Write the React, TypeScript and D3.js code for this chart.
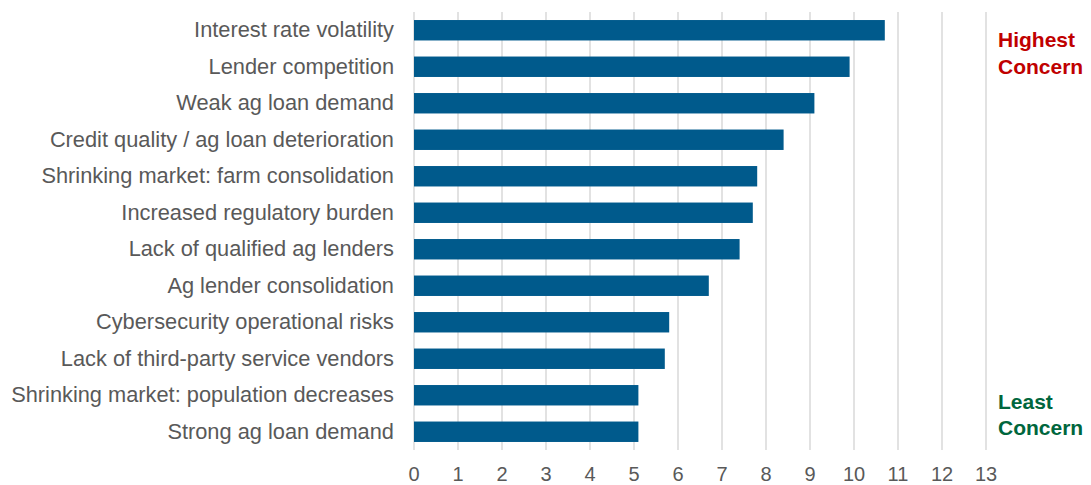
import React from "react";
import * as d3 from "d3";

const categories = [
  "Interest rate volatility",
  "Lender competition",
  "Weak ag loan demand",
  "Credit quality / ag loan deterioration",
  "Shrinking market: farm consolidation",
  "Increased regulatory burden",
  "Lack of qualified ag lenders",
  "Ag lender consolidation",
  "Cybersecurity operational risks",
  "Lack of third-party service vendors",
  "Shrinking market: population decreases",
  "Strong ag loan demand",
];
const values = [10.7, 9.9, 9.1, 8.4, 7.8, 7.7, 7.4, 6.7, 5.8, 5.7, 5.1, 5.1];
const ticks = [0, 1, 2, 3, 4, 5, 6, 7, 8, 9, 10, 11, 12, 13];

const W = 1091;
const H = 485;
const left = 414;
const right = 986;
const top = 12;
const bottom = 450;

export default function App() {
  const x = d3.scaleLinear().domain([0, 13]).range([left, right]);
  const y = d3.scaleBand<string>().domain(categories).range([top, bottom]).paddingInner(0.44).paddingOuter(0.22);
  const font = "'Liberation Sans', Arial, sans-serif";
  return (
    <svg width={W} height={H} style={{ position: "absolute", left: 0, top: 0 }} fontFamily={font}>
      <rect width={W} height={H} fill="#fff" />
      {ticks.map((t) => (
        <line key={"g" + t} x1={x(t)} x2={x(t)} y1={top} y2={bottom} stroke="#d9d9d9" strokeWidth={1.5} />
      ))}
      {categories.map((c, i) => (
        <rect key={c} x={x(0)} y={y(c)} width={x(values[i]) - x(0)} height={y.bandwidth()} fill="#005A8C" />
      ))}
      {categories.map((c) => (
        <text key={"l" + c} x={394} y={(y(c) as number) + y.bandwidth() / 2 + 6.8} textAnchor="end" fontSize={21.8} fill="#595959">
          {c}
        </text>
      ))}
      {ticks.map((t) => (
        <text key={"t" + t} x={x(t)} y={481} textAnchor="middle" fontSize={20} fill="#595959">
          {t}
        </text>
      ))}
      <text x={998} y={47} fontSize={21} fontWeight="bold" fill="#C00000">Highest</text>
      <text x={998} y={74} fontSize={21} fontWeight="bold" fill="#C00000">Concern</text>
      <text x={998} y={409} fontSize={21} fontWeight="bold" fill="#00663D">Least</text>
      <text x={998} y={435} fontSize={21} fontWeight="bold" fill="#00663D">Concern</text>
    </svg>
  );
}
